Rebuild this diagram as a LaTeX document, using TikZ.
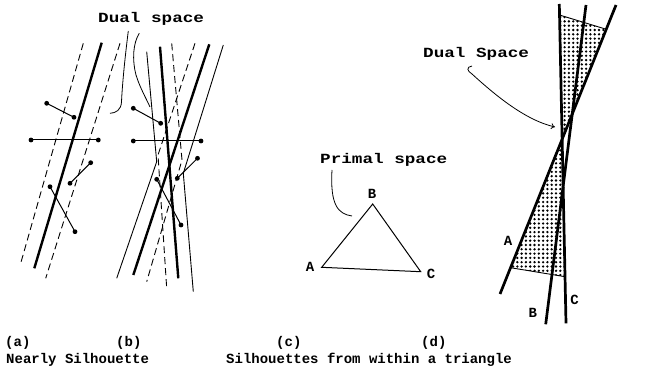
\documentclass[tikz,border=0pt]{standalone}
\usepackage{fontspec}
\newfontfamily\monob{Liberation Mono}
\newfontfamily\monowide[FakeStretch=1.26]{Liberation Mono}
\usetikzlibrary{patterns,arrows.meta,calc}
\pgfdeclarepatternformonly{mydots}{\pgfqpoint{-1pt}{-1pt}}{\pgfqpoint{5.3pt}{5.3pt}}{\pgfqpoint{4.3pt}{4.3pt}}{\pgfpathcircle{\pgfqpoint{1.3pt}{1.3pt}}{1.3pt}\pgfusepath{fill}}
\tikzset{
  thickln/.style={line width=2.4pt},
  dthickln/.style={line width=2.7pt},
  thinln/.style={line width=0.9pt},
  dashln/.style={line width=0.9pt, dash pattern=on 7pt off 4pt},
  seg/.style={line width=1pt},
  lbl/.style={font=\monob\bfseries\fontsize{14}{16}\selectfont, inner sep=0pt},
  widelbl/.style={font=\monowide\bfseries\fontsize{14}{16}\selectfont, inner sep=0pt},
  callout/.style={line width=0.8pt}
}
\newcommand{\dotseg}[2]{\draw[seg] (#1) -- (#2); \fill (#1) circle (2.4); \fill (#2) circle (2.4);}
\begin{document}
\begin{tikzpicture}[x=1pt,y=-1pt]
\useasboundingbox (0,0) rectangle (658,371);
% ---------- panel (a)
\draw[thickln] (101.7,42.7) -- (34.3,268.3);
\draw[dashln] (83.3,43.3) -- (20.7,263.3);
\draw[dashln] (120,43.3) -- (45.7,278.3);
\coordinate (a1s) at (46.7,103.3); \coordinate (a1e) at (74,117.3);
\coordinate (a2s) at (31,140);     \coordinate (a2e) at (98.3,140);
\coordinate (a3s) at (90.7,162.7); \coordinate (a3e) at (70,183.3);
\coordinate (a4s) at (50,186.7);   \coordinate (a4e) at (75,231.7);
\dotseg{a1s}{a1e}\dotseg{a2s}{a2e}\dotseg{a3s}{a3e}\dotseg{a4s}{a4e}
% ---------- panel (b)
\draw[thickln] (160,46.7) -- (178.3,278.3);
\draw[thickln] (209.3,44.3) -- (133.3,275);
\draw[thinln] (146.7,51.7) -- (156.7,161.7) -- (116.7,278.3);
\draw[thinln] (223.3,45) -- (183.3,173.3) -- (193.3,291.7);
\draw[dashln] (171.7,43.3) -- (182,160) -- (146.7,281.7);
\draw[dashln] (195,43.3) -- (158,155) -- (166.7,288.3);
\coordinate (b1s) at (133.3,108.3); \coordinate (b1e) at (160.7,123.3);
\coordinate (b2s) at (133.3,141);   \coordinate (b2e) at (201,141);
\coordinate (b3s) at (197.5,158.3); \coordinate (b3e) at (177.3,178.3);
\coordinate (b4s) at (156.7,179.3); \coordinate (b4e) at (181,225);
\dotseg{b1s}{b1e}\dotseg{b2s}{b2e}\dotseg{b3s}{b3e}\dotseg{b4s}{b4e}
% Dual space label and braces
\node[widelbl, anchor=base west] (dual1) at (98,23) {Dual space};
\draw[callout] (128.3,31) .. controls (124,65) and (122,90) .. (121.5,102) .. controls (121,110) and (116,113) .. (110,113.3);
\draw[callout] (139.3,33.3) .. controls (133,43) and (132,60) .. (136,75) .. controls (140,88) and (146,98) .. (150,107);
% ---------- panel (c)
\coordinate (A) at (321.7,267.3);
\coordinate (B) at (372.7,204);
\coordinate (C) at (420.7,271.7);
\draw[line width=1pt, line join=miter] (A) -- (B) -- (C) -- cycle;
\node[lbl, anchor=base] (lA) at (310,271.7) {A};
\node[lbl, anchor=base] (lB) at (372,198.3) {B};
\node[lbl, anchor=base] (lC) at (431,278) {C};
\node[widelbl, anchor=base west] (primal) at (320,164) {Primal space};
\draw[callout] (332,170) .. controls (330,205) and (338,214) .. (352,216);
% ---------- panel (d)
\coordinate (dA1) at (616,5);     \coordinate (dA2) at (500,294);
\coordinate (dB1) at (586,5);     \coordinate (dB2) at (545.7,324.3);
\coordinate (dC1) at (559.3,4);   \coordinate (dC2) at (566,323.3);
\coordinate (X) at (intersection of dA1--dA2 and dC1--dC2);
\coordinate (ut1) at ($(dC1)!0.0345!(dC2)$);
\coordinate (ut2) at ($(dA1)!0.084!(dA2)$);
\coordinate (lb1) at ($(dA1)!0.909!(dA2)$);
\coordinate (lb2) at ($(dC1)!0.854!(dC2)$);
\fill[pattern=mydots] (ut1) -- (ut2) -- (X) -- cycle;
\fill[pattern=mydots] (X) -- (lb1) -- (lb2) -- cycle;
\draw[thinln] (ut1) -- (ut2);
\draw[thinln] (lb1) -- (lb2);
\draw[dthickln] (dA1) -- (dA2);
\draw[dthickln] (dB1) -- (dB2);
\draw[dthickln] (dC1) -- (dC2);
\node[lbl, anchor=base] (dlA) at (508,246) {A};
\node[lbl, anchor=base] (dlB) at (532.7,317.7) {B};
\node[lbl, anchor=base] (dlC) at (574.5,304) {C};
\node[widelbl, anchor=base west] (dual2) at (423,58) {Dual Space};
\coordinate (arrtip) at (555,127);
\draw[callout, -{To[length=4pt,width=6pt]}] (472,66) .. controls (466,67) and (467,71) .. (472,74) .. controls (495,95) and (525,120) .. (arrtip);
% ---------- captions
\node[lbl, anchor=base west] (ca) at (5,346.5) {(a)};
\node[lbl, anchor=base west] (cb) at (116,346.5) {(b)};
\node[lbl, anchor=base west] (cc) at (276,346.5) {(c)};
\node[lbl, anchor=base west] (cd) at (421,346.5) {(d)};
\node[lbl, anchor=base west] (cap1) at (6,363) {Nearly Silhouette};
\node[lbl, anchor=base west] (cap2) at (226,363) {Silhouettes from within a triangle};
\end{tikzpicture}
\end{document}
